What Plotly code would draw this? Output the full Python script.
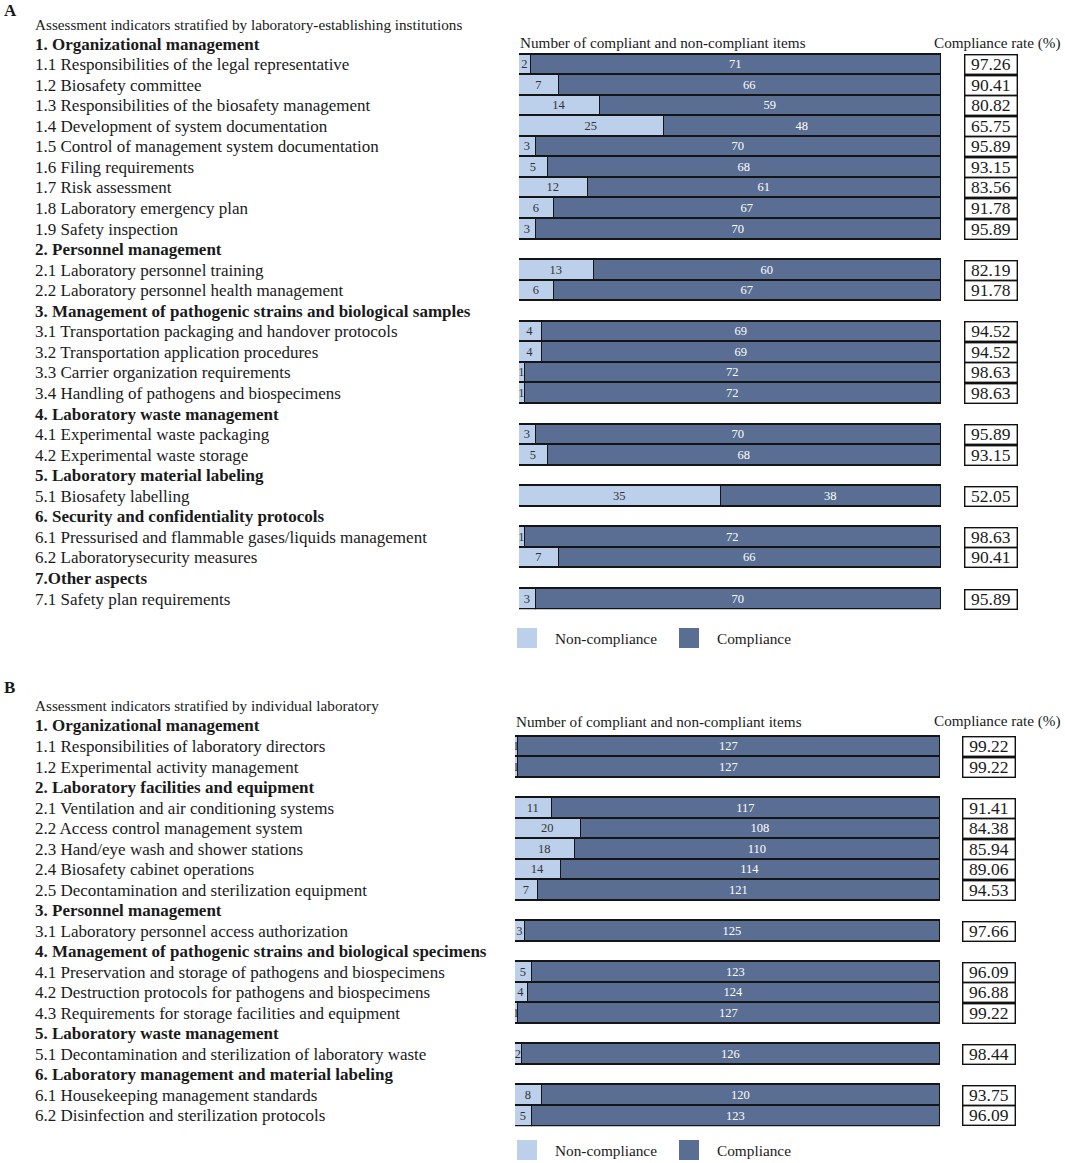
import plotly.graph_objects as go

W, H = 1065, 1163

# ---------------- Panel A data ----------------
a_title = "Assessment indicators stratified by laboratory-establishing institutions"
a_labels = [
    "1. Organizational management",
    "1.1 Responsibilities of the legal representative",
    "1.2 Biosafety committee",
    "1.3 Responsibilities of the biosafety management",
    "1.4 Development of system documentation",
    "1.5 Control of management system documentation",
    "1.6 Filing requirements",
    "1.7 Risk assessment",
    "1.8 Laboratory emergency plan",
    "1.9 Safety inspection",
    "2. Personnel management",
    "2.1 Laboratory personnel training",
    "2.2 Laboratory personnel health management",
    "3. Management of pathogenic strains and biological samples",
    "3.1 Transportation packaging and handover protocols",
    "3.2 Transportation application procedures",
    "3.3 Carrier organization requirements",
    "3.4 Handling of pathogens and biospecimens",
    "4. Laboratory waste management",
    "4.1 Experimental waste packaging",
    "4.2 Experimental waste storage",
    "5. Laboratory material labeling",
    "5.1 Biosafety labelling",
    "6. Security and confidentiality protocols",
    "6.1 Pressurised and flammable gases/liquids management",
    "6.2 Laboratorysecurity measures",
    "7.Other aspects",
    "7.1 Safety plan requirements",
]
a_header = [True, False, False, False, False, False, False, False, False, False,
            True, False, False, True, False, False, False, False,
            True, False, False, True, False, True, False, False, True, False]
a_noncomp = [None, 2, 7, 14, 25, 3, 5, 12, 6, 3,
             None, 13, 6, None, 4, 4, 1, 1,
             None, 3, 5, None, 35, None, 1, 7, None, 3]
a_comp = [None, 71, 66, 59, 48, 70, 68, 61, 67, 70,
          None, 60, 67, None, 69, 69, 72, 72,
          None, 70, 68, None, 38, None, 72, 66, None, 70]
a_rate = [None, "97.26", "90.41", "80.82", "65.75", "95.89", "93.15", "83.56", "91.78", "95.89",
          None, "82.19", "91.78", None, "94.52", "94.52", "98.63", "98.63",
          None, "95.89", "93.15", None, "52.05", None, "98.63", "90.41", None, "95.89"]
a_total = 73

# ---------------- Panel B data ----------------
b_title = "Assessment indicators stratified by individual laboratory"
b_labels = [
    "1. Organizational management",
    "1.1 Responsibilities of laboratory directors",
    "1.2 Experimental activity management",
    "2. Laboratory facilities and equipment",
    "2.1 Ventilation and air conditioning systems",
    "2.2 Access control management system",
    "2.3 Hand/eye wash and shower stations",
    "2.4 Biosafety cabinet operations",
    "2.5 Decontamination and sterilization equipment",
    "3. Personnel management",
    "3.1 Laboratory personnel access authorization",
    "4. Management of pathogenic strains and biological specimens",
    "4.1 Preservation and storage of pathogens and biospecimens",
    "4.2 Destruction protocols for pathogens and biospecimens",
    "4.3 Requirements for storage facilities and equipment",
    "5. Laboratory waste management",
    "5.1 Decontamination and sterilization of laboratory waste",
    "6. Laboratory management and material labeling",
    "6.1 Housekeeping management standards",
    "6.2 Disinfection and sterilization protocols",
]
b_header = [True, False, False, True, False, False, False, False, False,
            True, False, True, False, False, False, True, False, True, False, False]
b_noncomp = [None, 1, 1, None, 11, 20, 18, 14, 7,
             None, 3, None, 5, 4, 1, None, 2, None, 8, 5]
b_comp = [None, 127, 127, None, 117, 108, 110, 114, 121,
          None, 125, None, 123, 124, 127, None, 126, None, 120, 123]
b_rate = [None, "99.22", "99.22", None, "91.41", "84.38", "85.94", "89.06", "94.53",
          None, "97.66", None, "96.09", "96.88", "99.22", None, "98.44", None, "93.75", "96.09"]
b_total = 128

series_names = ["Non-compliance", "Compliance"]
col_header_bars = "Number of compliant and non-compliant items"
col_header_rate = "Compliance rate (%)"

LIGHT = "#BCD0EB"
DARK = "#596E92"
EDGE = "#151515"
FONT = "Liberation Serif, Times New Roman, serif"
TXT = "#1a1a1a"


def px(x):
    return x / W


def py(y):
    return 1 - y / H


fig = go.Figure()
annotations = []
shapes = []


def add_panel(labels, header, noncomp, comp, rate, total, title, letter,
              xa, ya, x0, x1, y_first, y_last, rate_x, letter_y, title_y,
              colhead_y, legend_y):
    n = len(labels)
    step = (y_last - y_first) / (n - 1)
    top = y_first - step / 2
    bot = y_last + step / 2
    xs = "x" if xa == 1 else f"x{xa}"
    ys = "y" if ya == 1 else f"y{ya}"
    xkey = "xaxis" if xa == 1 else f"xaxis{xa}"
    ykey = "yaxis" if ya == 1 else f"yaxis{ya}"
    fig.update_layout(**{
        xkey: dict(domain=[px(x0), px(x1)], range=[0, total], visible=False,
                   fixedrange=True, anchor=ys),
        ykey: dict(domain=[py(bot), py(top)], range=[n - 0.5, -0.5], visible=False,
                   fixedrange=True, anchor=xs),
    })
    rows = list(range(n))
    for vals, col, tcol, name in [(noncomp, LIGHT, "#333333", series_names[0]),
                                  (comp, DARK, "white", series_names[1])]:
        yy = [r for r, v in zip(rows, vals) if v is not None]
        xx = [v for v in vals if v is not None]
        fig.add_trace(go.Bar(
            x=xx, y=yy, orientation="h", xaxis=xs, yaxis=ys, name=name,
            marker=dict(color=col, line=dict(color=EDGE, width=1.4)),
            text=[str(v) for v in xx], textposition="inside",
            insidetextanchor="middle", textangle=0,
            textfont=dict(family=FONT, size=12.5, color=tcol),
            showlegend=False, hoverinfo="x+y",
        ))
    # left labels
    for r, (lab, hd) in enumerate(zip(labels, header)):
        annotations.append(dict(
            x=px(33), xref="paper", y=r, yref=ys, xanchor="left", yanchor="middle",
            text=f"<b>{lab}</b>" if hd else lab, showarrow=False,
            font=dict(family=FONT, size=17, color=TXT)))
    # rate boxes
    for r, v in enumerate(rate):
        if v is None:
            continue
        annotations.append(dict(
            x=px(rate_x), xref="paper", y=r, yref=ys, xanchor="center", yanchor="middle",
            text=v, showarrow=False, width=51, height=18, borderpad=0,
            bordercolor="#111111", borderwidth=1.4, bgcolor="white",
            font=dict(family=FONT, size=17.5, color=TXT)))
    # letter, title, column headers
    annotations.append(dict(x=px(2), xref="paper", y=py(letter_y), yref="paper",
                            xanchor="left", yanchor="middle", text=f"<b>{letter}</b>",
                            showarrow=False, font=dict(family=FONT, size=17, color=TXT)))
    annotations.append(dict(x=px(33), xref="paper", y=py(title_y), yref="paper",
                            xanchor="left", yanchor="middle", text=title,
                            showarrow=False, font=dict(family=FONT, size=15.2, color=TXT)))
    annotations.append(dict(x=px(x0 - 1), xref="paper", y=py(colhead_y), yref="paper",
                            xanchor="left", yanchor="middle", text=col_header_bars,
                            showarrow=False, font=dict(family=FONT, size=15.2, color=TXT)))
    annotations.append(dict(x=px(1063), xref="paper", y=py(colhead_y), yref="paper",
                            xanchor="right", yanchor="middle", text=col_header_rate,
                            showarrow=False, font=dict(family=FONT, size=15.2, color=TXT)))
    # legend
    for lx, col, name in [(517, LIGHT, series_names[0]), (679, DARK, series_names[1])]:
        shapes.append(dict(type="rect", xref="paper", yref="paper",
                           x0=px(lx), x1=px(lx + 20), y0=py(legend_y + 10), y1=py(legend_y - 10),
                           fillcolor=col, line=dict(width=0)))
        annotations.append(dict(x=px(lx + 36), xref="paper", y=py(legend_y), yref="paper",
                                xanchor="left", yanchor="middle", text=name, showarrow=False,
                                font=dict(family=FONT, size=15.3, color=TXT)))


add_panel(a_labels, a_header, a_noncomp, a_comp, a_rate, a_total, a_title, "A",
          1, 1, 519, 941, 44, 599, 991, 10, 25, 43, 638)
add_panel(b_labels, b_header, b_noncomp, b_comp, b_rate, b_total, b_title, "B",
          2, 2, 515, 940, 726, 1116, 989, 688, 705, 721, 1150)

fig.update_layout(
    width=W, height=H, margin=dict(l=0, r=0, t=0, b=0),
    paper_bgcolor="white", plot_bgcolor="white",
    barmode="stack", bargap=0,
    uniformtext=dict(mode="show", minsize=12.5),
    annotations=annotations, shapes=shapes,
    showlegend=False,
)
fig.write_html("out.html", config={"displayModeBar": False},
               post_script="document.body.style.margin='0px';document.body.style.overflow='hidden';")
